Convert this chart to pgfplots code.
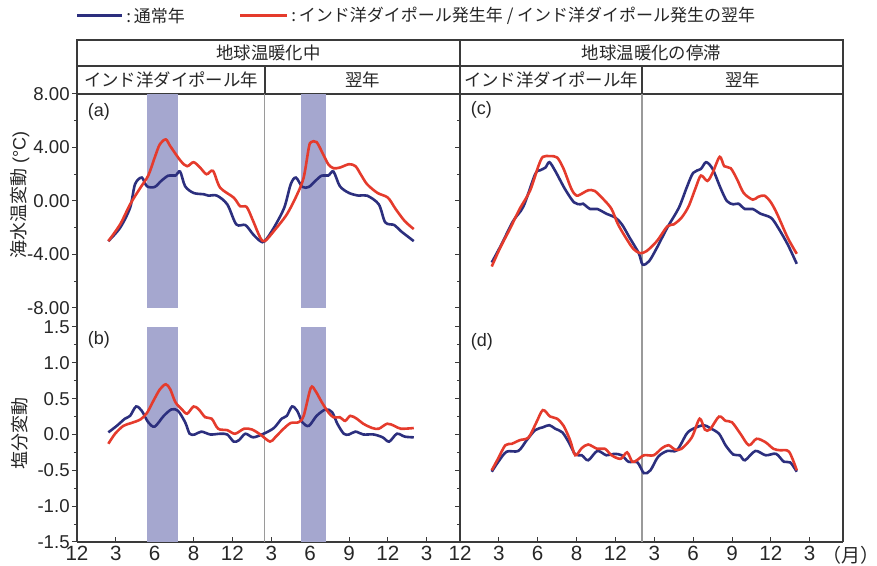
\documentclass[border=0pt]{standalone}
\usepackage{fontspec}
\setmainfont{Liberation Sans}
\newfontfamily\cjk{Noto Sans CJK JP}
\usepackage{pgfplots}
\pgfplotsset{compat=1.18}
\definecolor{navy}{HTML}{2C2F7E}
\definecolor{redl}{HTML}{E53B2C}
\definecolor{shade}{HTML}{A5A7CF}
\definecolor{frame}{HTML}{3A3A3A}
\definecolor{sep}{HTML}{9A9A9A}
\pgfplotsset{
  base/.style={
    scale only axis, width=191.5pt, xmin=0, xmax=29.57,
    axis line style={frame, line width=0.75pt},
    tick style={frame, line width=0.5pt},
    ytick align=outside, xtick align=inside,
    major tick length=2.5pt, minor tick length=1.5pt,
    ytick pos=left,
    yticklabel style={font=\fontsize{9.3}{10}\selectfont, text=black!85, inner sep=1pt},
    xticklabel style={font=\fontsize{10.3}{11}\selectfont, text=black!85, inner sep=2pt},
  },
  top/.style={base, height=111.5pt, ymin=-8.673, ymax=8, axis x line=none,
    ytick={-8,-4,0,4,8}, minor ytick={-6,-2,2,6}},
  bot/.style={base, height=112.5pt, ymin=-1.5, ymax=1.639, axis x line*=bottom,
    xtick={0,3,6,9,12,15,18,21,24,27}, xticklabels={12,3,6,8,12,3,6,9,12,3},
    ytick={-1.5,-1,-0.5,0,0.5,1,1.5}, minor y tick num=1},
  bl/.style={navy, line width=1.3pt, smooth, tension=0.5},
  rd/.style={redl, line width=1.3pt, smooth, tension=0.5},
}
\begin{document}
\begin{tikzpicture}
\begin{scope}[x=0.5pt,y=0.5pt]
\useasboundingbox (0,0) rectangle (877,566);
% legend
\draw[navy, line width=1.5pt] (77,550) -- (122,550);
\node[anchor=west, inner sep=1pt, font=\cjk\fontsize{8.5}{10}\selectfont, text=black!85] at (124,550) {:\,通常年};
\draw[redl, line width=1.5pt] (240,550) -- (287,550);
\node[anchor=west, inner sep=1pt, font=\cjk\fontsize{8.5}{10}\selectfont, text=black!85] at (289,550) {:\,インド洋ダイポール発生年 / インド洋ダイポール発生の翌年};
% header
\draw[frame, line width=0.75pt] (77,472) rectangle (843,526);
\draw[frame, line width=0.75pt] (77,500) -- (843,500);
\draw[frame, line width=0.75pt] (460,472) -- (460,526);
\draw[frame, line width=0.75pt] (265,472) -- (265,500);
\draw[frame, line width=0.75pt] (642,472) -- (642,500);
\begin{scope}[every node/.style={font=\cjk\fontsize{8.7}{10}\selectfont, text=black!85}]
\node at (268.5,513) {地球温暖化中};
\node at (651.5,513) {地球温暖化の停滞};
\node at (171,486) {インド洋ダイポール年};
\node at (362.5,486) {翌年};
\node at (551,486) {インド洋ダイポール年};
\node at (742.5,486) {翌年};
\end{scope}
% axis labels
\node[rotate=90, font=\fontsize{9}{10}\selectfont, text=black!85] at (20,371) {{\cjk 海水温変動} (°C)};
\node[rotate=90, font=\cjk\fontsize{9}{10}\selectfont, text=black!85] at (20,132) {塩分変動};
\node[font=\cjk\fontsize{9.5}{10}\selectfont, text=black!85] at (851,11) {（月）};
\end{scope}

% (a)
\begin{axis}[top, at={(38.5pt,124.5pt)}, anchor=south west, yticklabels={-8.00,-4.00,0.00,4.00,8.00}]
\addplot[fill=shade, draw=none] coordinates {(5.41,-8)(7.80,-8)(7.80,8)(5.41,8)} -- cycle;
\addplot[fill=shade, draw=none] coordinates {(17.30,-8)(19.23,-8)(19.23,8)(17.30,8)} -- cycle;
\addplot[sep, line width=0.6pt] coordinates {(14.48,-8.673)(14.48,8)};
\addplot[bl] coordinates {(2.42,-3.0)(3.33,-2.0)(4.1,-0.5)(4.48,1.25)(5.0,1.75)(5.4,1.1)(6.0,1.05)(6.5,1.5)(7.06,1.9)(7.6,1.9)(7.96,2.2)(8.35,1.1)(9.0,0.6)(9.8,0.5)(10.15,0.4)(10.8,0.4)(11.6,-0.25)(12.3,-1.75)(13.0,-1.8)(13.6,-2.5)(14.15,-3.0)(14.5,-3.0)(15.2,-2.0)(16.0,-0.5)(16.5,1.25)(16.9,1.75)(17.4,1.05)(17.9,1.05)(18.4,1.5)(18.9,1.9)(19.4,1.9)(19.8,2.2)(20.3,1.1)(21.0,0.6)(21.75,0.4)(22.4,0.4)(23.3,-0.25)(23.8,-1.6)(24.5,-1.8)(25.0,-2.25)(26.0,-3.0)};
\addplot[rd] coordinates {(2.42,-3.0)(3.33,-1.75)(4.1,-0.25)(4.9,1.0)(5.5,1.9)(6.0,3.25)(6.4,4.25)(6.86,4.6)(7.2,4.1)(8.0,3.0)(8.5,2.6)(9.0,2.9)(9.5,2.5)(10.0,2.0)(10.5,2.25)(11.05,1.0)(12.1,0.25)(12.6,-0.4)(13.1,-0.45)(13.6,-1.5)(14.15,-2.75)(14.5,-3.0)(15.2,-2.25)(16.2,-1.0)(17.0,0.5)(17.5,1.75)(17.9,4.0)(18.07,4.4)(18.5,4.4)(19.0,3.5)(19.4,2.75)(19.8,2.45)(20.3,2.5)(21.0,2.75)(21.5,2.6)(21.9,2.0)(22.4,1.25)(23.2,0.6)(24.0,0.25)(24.6,-0.6)(25.3,-1.5)(26.0,-2.1)};
\node[anchor=west, font=\fontsize{9}{10}\selectfont, text=black!85] at (rel axis cs:0.01,0.92) {(a)};
\end{axis}

% (b)
\begin{axis}[bot, at={(38.5pt,12pt)}, anchor=south west, yticklabels={-1.5,-1.0,-0.5,0.0,0.5,1.0,1.5}]
\addplot[fill=shade, draw=none] coordinates {(5.41,-1.5)(7.80,-1.5)(7.80,1.5)(5.41,1.5)} -- cycle;
\addplot[fill=shade, draw=none] coordinates {(17.30,-1.5)(19.23,-1.5)(19.23,1.5)(17.30,1.5)} -- cycle;
\addplot[sep, line width=0.6pt] coordinates {(14.48,-1.5)(14.48,1.639)};
\addplot[bl] coordinates {(2.42,0.03)(3.07,0.12)(3.7,0.22)(4.1,0.26)(4.56,0.39)(5.0,0.33)(5.5,0.17)(6.0,0.11)(6.7,0.26)(7.3,0.35)(7.8,0.33)(8.35,0.17)(8.7,0.01)(9.1,0.0)(9.6,0.04)(10.3,0.0)(11.05,0.01)(11.6,0.0)(12.1,-0.1)(12.5,-0.08)(13.0,0.01)(13.6,-0.04)(14.4,0.01)(15.2,0.09)(15.8,0.22)(16.2,0.26)(16.6,0.39)(17.0,0.33)(17.4,0.17)(17.9,0.12)(18.5,0.26)(19.2,0.35)(19.7,0.31)(20.1,0.15)(20.6,0.01)(21.0,0.0)(21.5,0.04)(22.1,0.0)(22.9,0.0)(23.6,-0.04)(24.1,-0.1)(24.7,0.01)(25.3,-0.03)(26.0,-0.04)};
\addplot[rd] coordinates {(2.42,-0.13)(2.94,0.01)(3.58,0.12)(4.2,0.16)(4.9,0.21)(5.4,0.30)(5.9,0.47)(6.4,0.63)(6.86,0.70)(7.2,0.63)(7.6,0.45)(8.1,0.35)(8.5,0.29)(9.0,0.39)(9.4,0.35)(9.9,0.24)(10.4,0.22)(10.9,0.08)(11.6,0.06)(12.2,0.01)(12.9,0.08)(13.5,0.07)(14.15,0.0)(14.9,-0.1)(15.3,-0.04)(15.95,0.08)(16.5,0.16)(17.1,0.17)(17.5,0.26)(18.05,0.65)(18.4,0.61)(18.9,0.45)(19.4,0.31)(19.8,0.24)(20.3,0.24)(20.7,0.19)(21.1,0.26)(21.6,0.22)(22.1,0.15)(22.8,0.09)(23.3,0.08)(23.95,0.15)(24.5,0.12)(25.0,0.08)(26.0,0.09)};
\node[anchor=west, font=\fontsize{9}{10}\selectfont, text=black!85] at (rel axis cs:0.01,0.898) {(b)};
\end{axis}

% (c)
\begin{axis}[top, at={(230pt,124.5pt)}, anchor=south west, yticklabels={}]
\addplot[sep, line width=0.6pt] coordinates {(14.05,-8.673)(14.05,8)};
\addplot[bl] coordinates {(2.45,-4.6)(3.2,-3.25)(4.1,-1.5)(4.9,-0.4)(5.8,2.0)(6.2,2.3)(6.6,2.5)(6.9,2.9)(7.35,2.25)(8.1,0.9)(8.8,-0.1)(9.3,-0.25)(9.5,-0.2)(10.05,-0.6)(10.6,-0.6)(11.3,-0.95)(12.0,-1.25)(12.5,-1.75)(13.1,-2.75)(13.8,-3.9)(14.1,-4.75)(14.6,-4.5)(15.2,-3.5)(16.0,-2.0)(16.9,-0.5)(17.5,1.0)(18.0,2.1)(18.6,2.4)(19.0,2.9)(19.5,2.4)(20.1,1.0)(20.6,0.0)(21.1,-0.25)(21.5,-0.2)(22.0,-0.6)(22.6,-0.6)(23.2,-0.95)(24.0,-1.25)(24.5,-1.9)(25.3,-3.25)(26.0,-4.7)};
\addplot[rd] coordinates {(2.45,-4.9)(3.1,-3.5)(3.9,-2.0)(4.6,-0.6)(5.4,0.75)(6.05,2.6)(6.4,3.3)(6.96,3.35)(7.5,3.25)(8.0,2.4)(8.6,0.9)(9.0,0.4)(9.5,0.6)(9.9,0.8)(10.4,0.75)(11.1,0.1)(11.7,-0.6)(12.2,-1.75)(12.9,-2.9)(13.4,-3.6)(13.9,-3.9)(14.4,-3.75)(15.2,-3.0)(16.0,-1.9)(16.5,-1.75)(17.1,-1.25)(17.65,-0.4)(18.2,1.0)(18.6,1.9)(19.1,1.5)(19.5,2.1)(20.05,3.3)(20.4,2.6)(20.9,2.45)(21.4,1.6)(21.9,0.6)(22.6,0.1)(23.0,0.3)(23.5,0.4)(24.0,-0.1)(24.5,-1.0)(25.3,-2.75)(26.0,-3.95)};
\node[anchor=west, font=\fontsize{9}{10}\selectfont, text=black!85] at (rel axis cs:0.01,0.93) {(c)};
\end{axis}

% (d)
\begin{axis}[bot, at={(230pt,12pt)}, anchor=south west, yticklabels={}]
\addplot[sep, line width=0.6pt] coordinates {(14.05,-1.5)(14.05,1.639)};
\addplot[bl] coordinates {(2.45,-0.52)(2.96,-0.38)(3.6,-0.24)(4.5,-0.23)(5.15,-0.08)(5.8,0.06)(6.4,0.10)(6.9,0.13)(7.35,0.08)(7.9,0.03)(8.4,-0.11)(8.9,-0.28)(9.4,-0.29)(9.9,-0.36)(10.6,-0.23)(11.3,-0.29)(11.9,-0.27)(12.5,-0.29)(13.0,-0.38)(13.7,-0.39)(14.2,-0.54)(14.7,-0.50)(15.3,-0.31)(16.0,-0.23)(16.75,-0.22)(17.5,0.01)(18.0,0.08)(18.8,0.13)(19.3,0.09)(20.0,0.01)(20.5,-0.15)(21.1,-0.28)(21.6,-0.29)(22.0,-0.36)(22.8,-0.23)(23.6,-0.29)(24.4,-0.27)(25.0,-0.38)(25.5,-0.39)(26.0,-0.52)};
\addplot[rd] coordinates {(2.45,-0.50)(2.96,-0.33)(3.5,-0.15)(4.0,-0.13)(4.6,-0.08)(5.3,-0.04)(5.9,0.17)(6.4,0.34)(6.96,0.25)(7.5,0.22)(8.0,0.12)(8.5,-0.08)(8.9,-0.29)(9.4,-0.19)(9.9,-0.14)(10.6,-0.20)(11.2,-0.20)(11.7,-0.29)(12.4,-0.34)(12.9,-0.25)(13.3,-0.38)(13.65,-0.36)(14.2,-0.29)(14.95,-0.29)(15.6,-0.19)(16.1,-0.15)(16.6,-0.21)(17.1,-0.20)(17.9,-0.04)(18.5,0.22)(18.9,0.07)(19.3,0.07)(20.0,0.25)(20.5,0.19)(21.0,0.17)(21.65,0.01)(22.3,-0.15)(22.9,-0.06)(23.6,-0.11)(24.2,-0.20)(24.7,-0.22)(25.4,-0.24)(26.0,-0.50)};
\node[anchor=west, font=\fontsize{9}{10}\selectfont, text=black!85] at (rel axis cs:0.01,0.889) {(d)};
\end{axis}
\end{tikzpicture}
\end{document}
